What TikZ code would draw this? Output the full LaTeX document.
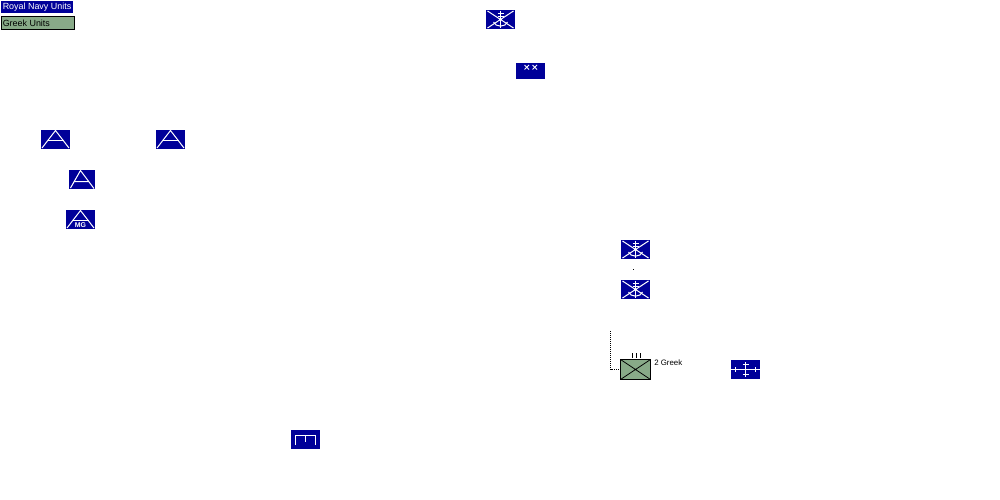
\documentclass[tikz,border=0pt]{standalone}
\usepackage{fontspec}
\setmainfont{Liberation Sans}
\definecolor{navy}{RGB}{0,0,153}
\definecolor{greek}{RGB}{136,170,136}
\tikzset{
  x=0.75pt,y=-0.75pt,
  unitbox/.style={fill=navy,draw=none,inner sep=0pt,outer sep=0pt,minimum width=21.75pt,minimum height=14.25pt},
  sym/.style={draw=white,line width=0.75pt},
  legendtext/.style={font=\fontsize{6.7pt}{8pt}\selectfont,inner sep=0pt,anchor=west},
  pics/anchorsym/.style={code={
    \draw[sym] (-13,-8.5) -- (13,8.5) (13,-8.5) -- (-13,8.5);
    \draw[sym] (0,-9) -- (0,8) (-3,-6) -- (3,-6) (-3,-3) -- (3,-3);
    \draw[sym] (-7,2.5) .. controls (-5,8) and (5,8) .. (7,2.5);
  }},
  pics/infsym/.style={code={
    \draw[sym] (-13.5,8.5) -- (0,-9) -- (13.5,8.5);
    \draw[sym] (-8,0.5) -- (8,0.5);
  }}
}
\begin{document}
\begin{tikzpicture}
\useasboundingbox (0,0) rectangle (1000,500);
\fill[white] (0,0) rectangle (1000,500);
% legend
\node[fill=navy,inner sep=0pt,outer sep=0pt,minimum width=54pt,minimum height=9pt,anchor=north west] (l1) at (1,1) {};
\node[legendtext,text=white] (l1t) at (2.5,7.3) {Royal Navy Units};
\node[fill=greek,draw=black,line width=0.75pt,inner sep=0pt,outer sep=0pt,minimum width=54.75pt,minimum height=9.75pt,anchor=north west] (l2) at (1.5,16.5) {};
\node[legendtext,text=black] (l2t) at (2.5,23) {Greek Units};
% top anchor
\node[unitbox] (n1) at (500.5,19.5) {};
\pic at (n1) {anchorsym};
% XX
\node[unitbox,minimum height=12pt] (n2) at (530.5,71) {};
\draw[sym,line width=0.6pt] (524.5,65) -- (529,69.5) (529,65) -- (524.5,69.5) (532.5,65) -- (537,69.5) (537,65) -- (532.5,69.5);
% triangles
\node[unitbox] (t1) at (55.5,139.5) {};
\pic at (t1) {infsym};
\node[unitbox] (t2) at (170.5,139.5) {};
\pic at (t2) {infsym};
\node[unitbox,minimum width=19.5pt] (t3) at (82,179.5) {};
\draw[sym] (70.5,188) -- (80.5,170.5) -- (94,188.5) (73.5,181.5) -- (88,181.5);
\node[unitbox] (t4) at (80.5,219.5) {};
\pic at (t4) {infsym};
\node[text=white,font=\bfseries\fontsize{5.2pt}{6pt}\selectfont,inner sep=0pt,fill=navy] (t4t) at (80.5,225.5) {MG};
% anchors
\node[unitbox] (a1) at (635.5,249.5) {};
\pic at (a1) {anchorsym};
\node[unitbox] (a2) at (635.5,289.5) {};
\pic at (a2) {anchorsym};
\node[fill=black,inner sep=0pt,minimum size=0.75pt] (dot) at (633.5,269.5) {};
% greek
\node[fill=greek,draw=black,line width=1.1pt,inner sep=0pt,outer sep=0pt,minimum width=22.5pt,minimum height=15pt] (g) at (635.5,369.5) {};
\draw[black,line width=0.6pt] (g.north west) -- (g.south east) (g.north east) -- (g.south west);
\draw[black,line width=0.75pt] (632.5,353) -- (632.5,357.5) (636.5,353) -- (636.5,357.5) (640.5,353) -- (640.5,357.5);
\coordinate (free) at (610.5,331);
\draw[black,line width=0.75pt,dash pattern=on 0.75pt off 0.75pt] (free) |- (g.west);
\node[font=\fontsize{5.9pt}{8pt}\selectfont,inner sep=0pt,anchor=west] (gl) at (654,362.5) {2 Greek};
% cross unit
\node[unitbox] (c) at (745.5,369.5) {};
\draw[sym] (c.west) -- (c.east);
\draw[sym] (745.5,362) -- (745.5,377) (742.5,364.5) -- (748.5,364.5) (742.5,374.5) -- (748.5,374.5);
\draw[sym] (735.5,367) -- (735.5,372) (755.5,367) -- (755.5,372);
% bottom
\node[unitbox] (b) at (305.5,439.5) {};
\draw[sym,line width=0.9pt] (295.5,444.5) -- (295.5,435.3) -- (315.7,435.3) -- (315.7,444.5) (305.7,435.3) -- (305.7,441.5);
\end{tikzpicture}
\end{document}
